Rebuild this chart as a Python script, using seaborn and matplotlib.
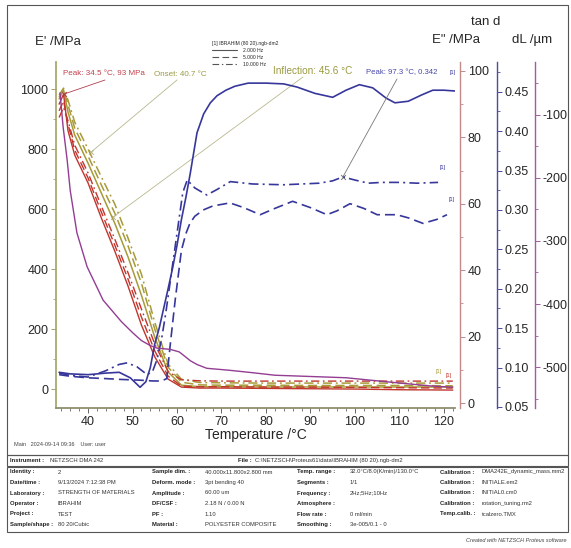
import matplotlib
matplotlib.use("Agg")
import matplotlib.pyplot as plt
import seaborn as sns
from matplotlib.lines import Line2D
from matplotlib.patches import Rectangle
from matplotlib.ticker import MultipleLocator
from matplotlib import font_manager

# ---------------- data ----------------
T_BUNDLE = [33.5, 34.5, 35.5, 37, 40, 43, 46, 49, 52, 55, 58, 61, 65, 70, 80, 90, 100, 110, 122]
EPP_2HZ = [90, 93, 82, 74.7, 66.3, 55.7, 45.8, 35.2, 23.5, 13.9, 7.2, 4.8, 4.5, 4.5, 4.4, 4.3, 4.2, 4.0, 3.9]
EPP_5HZ = [88, 91, 84, 76.2, 67.8, 57.5, 47.6, 37.3, 25.9, 15.7, 8.1, 5.1, 4.9, 4.9, 4.8, 4.8, 4.7, 4.6, 4.5]
EPP_10HZ = [86, 89, 85, 77.7, 69.3, 59.3, 49.4, 39.2, 28.3, 17.8, 9.5, 7.0, 6.7, 6.6, 6.6, 6.6, 6.6, 6.6, 6.6]
EP_2HZ = [967, 997, 923, 847, 753, 653, 553, 440, 313, 173, 57, 13, 8, 8, 7, 7, 7, 7, 7]
EP_5HZ = [973, 1000, 947, 870, 777, 680, 587, 477, 353, 200, 73, 23, 14, 13, 13, 12, 12, 12, 11]
EP_10HZ = [980, 1003, 963, 890, 800, 707, 617, 503, 383, 223, 83, 33, 22, 21, 20, 20, 20, 20, 20]

T_TAN_2HZ = [33.5, 36, 40, 44, 47, 49.5, 51.7, 53, 54, 55, 56, 57, 58, 59, 60, 61, 62, 63, 64.5, 66,
             67.5, 69, 71, 73, 76, 80, 84, 87, 91, 95, 98, 101, 104, 107, 109, 112, 115, 117.5, 120, 122.5]
TAN_2HZ = [0.094, 0.092, 0.091, 0.093, 0.094, 0.087, 0.075, 0.082, 0.100, 0.130, 0.150, 0.175, 0.200, 0.226,
           0.255, 0.288, 0.316, 0.347, 0.398, 0.422, 0.436, 0.445, 0.452, 0.457, 0.461, 0.461, 0.460, 0.456,
           0.448, 0.443, 0.452, 0.459, 0.455, 0.442, 0.436, 0.438, 0.446, 0.452, 0.452, 0.451]
T_TAN_5HZ = [33.5, 36, 40, 44, 47.2, 51.7, 54.6, 56.5, 57.7, 58.5, 59.6, 61, 62, 62.9, 64, 65.9, 68, 71.9,
             75, 78.7, 82, 86, 90, 93.7, 96, 98.9, 102, 105, 109.4, 112, 115.3, 118.4, 120.7]
TAN_5HZ = [0.091, 0.089, 0.087, 0.086, 0.085, 0.084, 0.083, 0.083, 0.086, 0.130, 0.186, 0.249, 0.270, 0.283,
           0.292, 0.300, 0.305, 0.309, 0.303, 0.294, 0.302, 0.311, 0.303, 0.294, 0.299, 0.308, 0.302, 0.294,
           0.294, 0.290, 0.283, 0.288, 0.294]
T_TAN_10HZ = [33.5, 36, 40, 44, 47, 48.8, 51, 53.3, 54.5, 55.5, 56.5, 57.5, 58.5, 59.5, 60.5, 61.3, 62.3, 64,
              66.7, 69, 72, 77, 84, 88, 92, 95, 97.3, 100, 103, 106, 110, 114, 118.7]
TAN_10HZ = [0.093, 0.090, 0.088, 0.096, 0.104, 0.106, 0.101, 0.091, 0.095, 0.110, 0.135, 0.170, 0.210, 0.250,
            0.290, 0.322, 0.338, 0.328, 0.319, 0.326, 0.336, 0.333, 0.332, 0.333, 0.334, 0.337, 0.342, 0.338,
            0.334, 0.335, 0.335, 0.334, 0.335]

T_DL = [33.7, 34.4, 35.3, 36.0, 37.5, 39.8, 43.4, 47.5, 50.1, 52, 54, 55.5, 58.5, 60.5, 61.4, 63, 64.5,
        66.7, 71.6, 77, 82, 90, 98, 108, 117, 122]
DL = [-65, -119, -171, -220, -287, -341, -394, -428, -446, -458, -466, -470, -472, -476, -481, -490, -496,
      -502, -505, -509, -513, -515, -517, -524, -530, -532]

PEAK_EPP = (34.5, 93)
ONSET = (40.7, 790)
INFLECTION = (45.6, 573)
PEAK_TAN = (97.3, 0.342)

FREQ_LABELS = ["2.000 Hz", "5.000 Hz", "10.000 Hz"]
LEGEND_TITLE = "[1] IBRAHIM (80 20).ngb-dm2"

X_TICKS = [40, 50, 60, 70, 80, 90, 100, 110, 120]
EP_TICKS = [0, 200, 400, 600, 800, 1000]
EPP_TICKS = [0, 20, 40, 60, 80, 100]
TAN_TICKS = [0.05, 0.10, 0.15, 0.20, 0.25, 0.30, 0.35, 0.40, 0.45]
DL_TICKS = [-500, -400, -300, -200, -100]

COL1_LABELS = ["Identity :", "Date/time :", "Laboratory :", "Operator :", "Project :", "Sample/shape :"]
COL1_VALUES = ["2", "9/13/2024 7:12:38 PM", "STRENGTH OF MATERIALS", "IBRAHIM", "TEST", "80 20/Cubic"]
COL2_LABELS = ["Sample dim. :", "Deform. mode :", "Amplitude :", "DF/CSF :", "PF :", "Material :"]
COL2_VALUES = ["40.000x11.800x2.800 mm", "3pt bending 40", "60.00 um", "2.18 N / 0.00 N", "1.10",
               "POLYESTER COMPOSITE"]
COL3_LABELS = ["Temp. range :", "Segments :", "Frequency :", "Atmosphere :", "Flow rate :", "Smoothing :"]
COL3_VALUES = ["32.0°C/8.0(K/min)/130.0°C", "1/1", "2Hz;5Hz;10Hz", "", "0 ml/min", "3e-005/0.1 - 0"]
COL4_LABELS = ["Calibration :", "Calibration :", "Calibration :", "Calibration :", "Temp.calib. :", ""]
COL4_VALUES = ["DMA242E_dynamic_mass.mm2", "INITIALE.em2", "INITIAL0.cm0", "rotation_tuning.rm2",
               "tcalzero.TMX", ""]

# ---------------- style ----------------
W, H = 571, 548
sns.set_theme(style="ticks")
names = {f.name for f in font_manager.fontManager.ttflist}
fams = (["Liberation Sans Narrow"] if "Liberation Sans Narrow" in names else []) + ["Liberation Sans", "DejaVu Sans"]
plt.rcParams["font.family"] = fams

C_EP, C_EPP, C_TAN, C_DL = "#a89a38", "#c0352d", "#37379b", "#933d93"
A_EP, A_EPP, A_TAN, A_DL = "#a6a66a", "#c48a8a", "#4b4ba0", "#a35aa3"
LS = ["-", (0, (6, 3)), (0, (6, 2.5, 1.2, 2.5))]
TICK_FS = 9

fig = plt.figure(figsize=(W / 100, H / 100), dpi=100)
fig.patch.set_facecolor("white")


def fp(x, y):
    return (x / W, 1 - y / H)


L, R, TOP, BOT = 56, 455, 62, 408
ax = fig.add_axes([L / W, 1 - BOT / H, (R - L) / W, (BOT - TOP) / H])
ax2 = ax.twinx()
ax3 = ax.twinx()
ax4 = ax.twinx()
for a in (ax, ax2, ax3, ax4):
    a.patch.set_visible(False)


def draw(axis, x, y, color, ls, lw=1.0):
    sns.lineplot(x=x, y=y, ax=axis, color=color, linestyle=ls, linewidth=lw,
                 sort=False, estimator=None, legend=False)


# E'' (red) and E' (olive) bundles
for vals, ls in zip([EPP_2HZ, EPP_5HZ, EPP_10HZ], LS):
    draw(ax2, T_BUNDLE, vals, C_EPP, ls, 1.0)
for vals, ls in zip([EP_2HZ, EP_5HZ, EP_10HZ], LS):
    draw(ax, T_BUNDLE, vals, C_EP, ls, 1.1)
# tan d
draw(ax3, T_TAN_2HZ, TAN_2HZ, C_TAN, LS[0], 1.2)
draw(ax3, T_TAN_5HZ, TAN_5HZ, C_TAN, LS[1], 1.2)
draw(ax3, T_TAN_10HZ, TAN_10HZ, C_TAN, LS[2], 1.2)
# dL
draw(ax4, T_DL, DL, C_DL, "-", 1.0)

# ---------------- axes ----------------
ax.set_xlim(32.8, 122.5)
ax.set_ylim(-63, 1090)
ax2.set_ylim(-1.5, 102.7)
ax3.set_ylim(0.0487, 0.4878)
ax4.set_ylim(-565, -16)

ax.spines["top"].set_visible(False)
ax.spines["right"].set_visible(False)
ax.spines["left"].set_color(A_EP)
ax.spines["bottom"].set_color("#8a8a6a")
ax.set_xticks(X_TICKS)
ax.xaxis.set_minor_locator(MultipleLocator(2))
ax.set_yticks(EP_TICKS)
ax.yaxis.set_minor_locator(MultipleLocator(100))
ax.tick_params(axis="x", which="major", length=3.5, width=0.7, color="#666", labelsize=TICK_FS, pad=2)
ax.tick_params(axis="x", which="minor", length=2, width=0.6, color="#666", bottom=True)
ax.tick_params(axis="y", which="major", length=3.5, width=0.7, color=A_EP, labelsize=TICK_FS, pad=2, left=True)
ax.tick_params(axis="y", which="minor", length=2, width=0.6, color=A_EP, left=True)

for a, pos, col, ticks, minor, fmt in (
        (ax2, 1.0125, A_EPP, EPP_TICKS, 10, "{:.0f}"),
        (ax3, 1.1053, A_TAN, TAN_TICKS, 0.025, "{:.2f}"),
        (ax4, 1.2005, A_DL, DL_TICKS, 50, "{:.0f}")):
    for s in ("left", "top", "bottom"):
        a.spines[s].set_visible(False)
    a.spines["right"].set_position(("axes", pos))
    a.spines["right"].set_color(col)
    a.spines["right"].set_linewidth(1.0)
    a.set_yticks(ticks)
    a.set_yticklabels([fmt.format(t) for t in ticks])
    a.yaxis.set_minor_locator(MultipleLocator(minor))
    a.tick_params(axis="y", which="major", length=3.5, width=0.7, color=col, labelsize=TICK_FS, pad=2,
                  right=True, left=False)
    a.tick_params(axis="y", which="minor", length=2, width=0.6, color=col, right=True, left=False)

# axis titles
fig.text(*fp(35, 42), "E' /MPa", fontsize=9.5, ha="left", va="center")
fig.text(*fp(456, 40), 'E" /MPa', fontsize=9.5, ha="center", va="center")
fig.text(*fp(486, 22), "tan d", fontsize=9.5, ha="center", va="center")
fig.text(*fp(532, 40), "dL /µm", fontsize=9.5, ha="center", va="center")


# ---------------- annotations ----------------
def note(axis, xy, line_from, text_at, text, tcolor, lcolor, fs):
    axis.annotate("", xy=xy, xycoords="data", xytext=fp(*line_from), textcoords="figure fraction",
                  arrowprops=dict(arrowstyle="-", color=lcolor, lw=0.6, shrinkA=0, shrinkB=0))
    sns.scatterplot(x=[xy[0]], y=[xy[1]], ax=axis, marker="x", s=12, color=lcolor, linewidth=0.7,
                    legend=False)
    fig.text(*fp(*text_at), text, color=tcolor, fontsize=fs, ha="left", va="center")


note(ax2, PEAK_EPP, (105, 80), (63, 74), "Peak: 34.5 °C, 93 MPa", "#c0404a", "#b04050", 5.8)
note(ax, ONSET, (177, 80), (154, 74), "Onset: 40.7 °C", "#9a9a40", "#b8b890", 5.8)
note(ax, INFLECTION, (303, 77), (273, 71), "Inflection: 45.6 °C", "#9a9a40", "#b8b890", 7.2)
note(ax3, PEAK_TAN, (397, 79), (366, 73), "Peak: 97.3 °C, 0.342", "#4848a8", "#777777", 5.6)
for a in (ax, ax2, ax3, ax4):
    a.set_ylabel("")
    a.set_xlabel("")
ax.set_xlabel("Temperature /°C", fontsize=10, labelpad=0)

for (px, py), col in (((450, 72), C_TAN), ((440, 167), C_TAN), ((449, 200), C_TAN),
                      ((436, 372), C_EP), ((446, 375), C_EPP)):
    fig.text(*fp(px, py), "[1]", fontsize=4, color=col, ha="left", va="center")

# legend
handles = [Line2D([], [], color="#555555", lw=0.8, linestyle=ls) for ls in LS]
fig.legend(handles=handles, labels=FREQ_LABELS, title=LEGEND_TITLE, loc="upper left",
           bbox_to_anchor=fp(212, 41), fontsize=3.6, title_fontsize=3.6, frameon=False,
           handlelength=5.0, handletextpad=1.2, labelspacing=0.4, borderpad=0, borderaxespad=0,
           alignment="left")

# ---------------- frame and info table ----------------
lw_frame = 0.8
fig.add_artist(Rectangle(fp(7, 455), (568 - 7) / W, (455 - 5) / H, transform=fig.transFigure,
                         fill=False, ec="#555555", lw=lw_frame))
fig.add_artist(Rectangle(fp(7, 466), (568 - 7) / W, (466 - 455) / H, transform=fig.transFigure,
                         fill=False, ec="#555555", lw=lw_frame))
fig.add_artist(Rectangle(fp(7, 532), (568 - 7) / W, (532 - 467) / H, transform=fig.transFigure,
                         fill=False, ec="#555555", lw=lw_frame))

TFS = 4.2
fig.text(*fp(14, 445), "Main   2024-09-14 09:36    User: user", fontsize=4.0, color="#444", va="center")
fig.text(*fp(10, 460.5), "Instrument :", fontsize=TFS, weight="bold", va="center", color="#222")
fig.text(*fp(50, 460.5), "NETZSCH DMA 242", fontsize=TFS, va="center", color="#333")
fig.text(*fp(238, 460.5), "File :", fontsize=TFS, weight="bold", va="center", color="#222")
fig.text(*fp(255, 460.5), "C:\\NETZSCH\\Proteus61\\data\\IBRAHIM (80 20).ngb-dm2", fontsize=TFS,
         va="center", color="#333")

rows_y = [472, 482.5, 493, 503.5, 514, 524.5]
for labels, values, lx, vx in ((COL1_LABELS, COL1_VALUES, 10, 58), (COL2_LABELS, COL2_VALUES, 152, 205),
                               (COL3_LABELS, COL3_VALUES, 297, 350), (COL4_LABELS, COL4_VALUES, 440, 482)):
    for lab, val, y in zip(labels, values, rows_y):
        fig.text(*fp(lx, y), lab, fontsize=TFS, weight="bold", va="center", color="#222")
        fig.text(*fp(vx, y), val, fontsize=TFS, va="center", color="#333")

fig.text(*fp(566, 541), "Created with NETZSCH Proteus software", fontsize=4.0, style="italic",
         ha="right", va="center", color="#444")

fig.savefig("out.png", dpi=100, facecolor="white")
